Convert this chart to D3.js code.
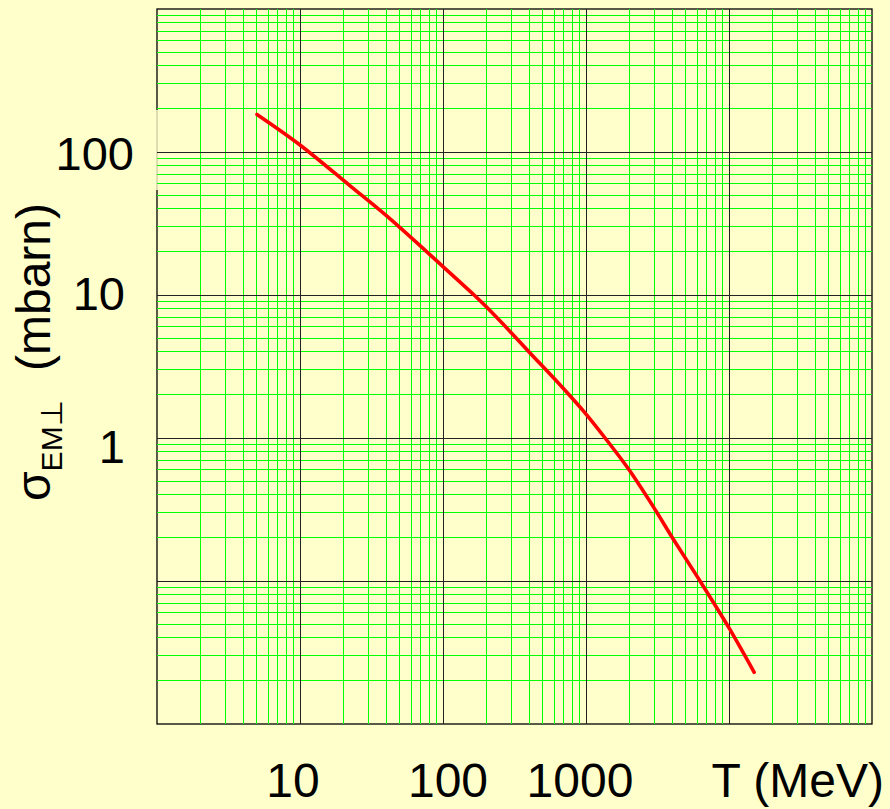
<!DOCTYPE html>
<html>
<head>
<meta charset="utf-8">
<script src="https://cdn.jsdelivr.net/npm/d3@7"></script>
<style>
  html, body { margin: 0; padding: 0; background: #FFFFCC; }
  svg { display: block; }
  text { font-family: "Liberation Sans", Arial, Helvetica, sans-serif; fill: #000; }
</style>
</head>
<body>
<svg id="chart" width="890" height="809"></svg>
<script>
// Kinetic energy T (MeV) and electromagnetic dissociation cross section (mbarn)
const T_MEV = [5, 10, 22.4, 40, 100, 165, 200, 300, 400, 700, 1000, 1360, 2000, 2960, 4080, 6270, 10000, 15000];
const SIGMA_MBARN = [183, 112, 58, 36, 15.8, 10, 8.3, 5.45, 4.0, 2.2, 1.47, 1.0, 0.6, 0.33, 0.196, 0.1, 0.047, 0.023];

// Axis domains and labelled ticks
const X_DOMAIN = [1, 100000];
const Y_DOMAIN = [0.01, 1000];
const X_TICK_LABELS = [10, 100, 1000];
const Y_TICK_LABELS = [100, 10, 1];
const X_TITLE = "T (MeV)";
const Y_TITLE_MAIN = "σ";
const Y_TITLE_SUB = "EM⊥";
const Y_TITLE_UNIT = "(mbarn)";

const svg = d3.select("#chart");
const W = 890, H = 809;
const plot = { left: 157, right: 872, top: 9, bottom: 724 };

const x = d3.scaleLog().domain(X_DOMAIN).range([plot.left, plot.right]);
const y = d3.scaleLog().domain(Y_DOMAIN).range([plot.bottom, plot.top]);

svg.append("rect").attr("width", W).attr("height", H).attr("fill", "#FFFFCC");

// Decade (major) and 2..9 (minor) grid values
function gridValues(domain) {
  const lo = Math.round(Math.log10(domain[0])), hi = Math.round(Math.log10(domain[1]));
  const major = [], minor = [];
  for (let e = lo; e < hi; e++) {
    const base = Math.pow(10, e);
    if (e > lo) major.push(base);
    for (let m = 2; m <= 9; m++) minor.push(m * base);
  }
  return { major, minor };
}
const gx = gridValues(X_DOMAIN);
const gy = gridValues(Y_DOMAIN);

// Frame
svg.append("rect")
  .attr("x", plot.left).attr("y", plot.top)
  .attr("width", plot.right - plot.left).attr("height", plot.bottom - plot.top)
  .attr("fill", "none").attr("stroke", "#000").attr("stroke-width", 1.3);

// Backing box of the top y label, which partly hides the left frame edge
const yLabelLayout = { 100: { dx: 9, dy: 0 }, 10: { dx: 0, dy: -3 }, 1: { dx: 0, dy: 7 } };
svg.append("rect")
  .attr("x", 60).attr("y", y(100) - 42)
  .attr("width", plot.left + 1.5 - 60).attr("height", 80)
  .attr("fill", "#FFFFCC").attr("opacity", 0.8);

// Minor grid
const grid = svg.append("g").attr("shape-rendering", "crispEdges");
grid.selectAll("line.vminor").data(gx.minor).join("line")
  .attr("class", "vminor")
  .attr("x1", d => x(d)).attr("x2", d => x(d))
  .attr("y1", plot.top).attr("y2", plot.bottom)
  .attr("stroke", "#00FF00").attr("stroke-width", 1);
grid.selectAll("line.hminor").data(gy.minor).join("line")
  .attr("class", "hminor")
  .attr("x1", plot.left).attr("x2", plot.right)
  .attr("y1", d => y(d)).attr("y2", d => y(d))
  .attr("stroke", "#00FF00").attr("stroke-width", 1);

// Major (decade) grid
grid.selectAll("line.vmajor").data(gx.major).join("line")
  .attr("class", "vmajor")
  .attr("x1", d => x(d)).attr("x2", d => x(d))
  .attr("y1", plot.top).attr("y2", plot.bottom)
  .attr("stroke", "#222").attr("stroke-width", 1);
grid.selectAll("line.hmajor").data(gy.major).join("line")
  .attr("class", "hmajor")
  .attr("x1", plot.left).attr("x2", plot.right)
  .attr("y1", d => y(d)).attr("y2", d => y(d))
  .attr("stroke", "#222").attr("stroke-width", 1);

// Cross-section curve
const pts = T_MEV.map((t, i) => [t, SIGMA_MBARN[i]]);
const line = d3.line()
  .x(d => x(d[0]))
  .y(d => y(d[1]))
  .curve(d3.curveCatmullRom.alpha(0.5));
svg.append("path")
  .datum(pts)
  .attr("d", line)
  .attr("fill", "none")
  .attr("stroke", "#FF0000")
  .attr("stroke-width", 3.6)
  .attr("stroke-linecap", "round")
  .attr("stroke-linejoin", "round");

// X tick labels
const xLabelShift = { 10: -7, 100: 5, 1000: -6 };
svg.selectAll("text.xlab").data(X_TICK_LABELS).join("text")
  .attr("class", "xlab")
  .attr("x", d => x(d) + xLabelShift[d])
  .attr("y", 797)
  .attr("text-anchor", "middle")
  .attr("font-size", 48)
  .text(d => String(d));

// X axis title
svg.append("text")
  .attr("x", 884).attr("y", 797)
  .attr("text-anchor", "end")
  .attr("font-size", 48)
  .text(X_TITLE);

// Y tick labels
svg.selectAll("text.ylab").data(Y_TICK_LABELS).join("text")
  .attr("class", "ylab")
  .attr("x", d => 125 + yLabelLayout[d].dx)
  .attr("y", d => y(d) + 17.5 + yLabelLayout[d].dy)
  .attr("text-anchor", "end")
  .attr("font-size", 47)
  .text(d => String(d));

// Y axis title, rotated
const yTitle = svg.append("text")
  .attr("transform", "translate(50,501) rotate(-90)")
  .attr("font-size", 48);
yTitle.append("tspan").text(Y_TITLE_MAIN);
yTitle.append("tspan").attr("font-size", 30).attr("dy", 12).text(Y_TITLE_SUB);

svg.append("text")
  .attr("transform", "translate(50,203) rotate(-90)")
  .attr("text-anchor", "end")
  .attr("font-size", 48)
  .text(Y_TITLE_UNIT);
</script>
</body>
</html>
